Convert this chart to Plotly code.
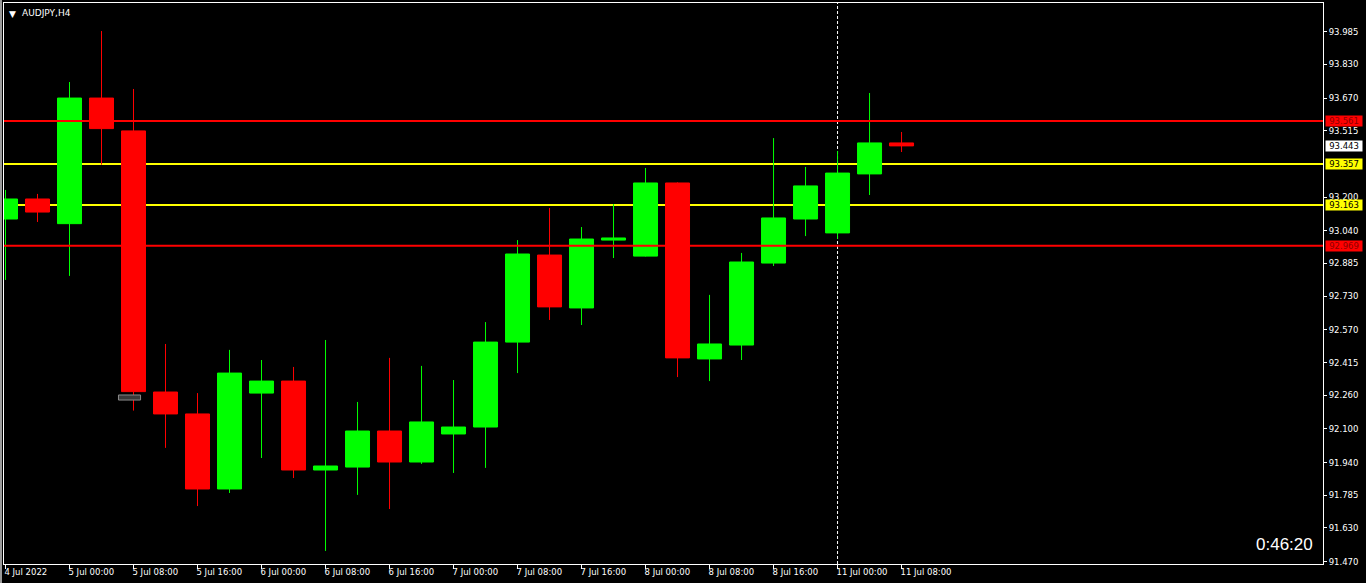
import plotly.graph_objects as go

# ---------------- data ----------------
times = ["4 Jul 16:00", "4 Jul 20:00", "5 Jul 00:00", "5 Jul 04:00", "5 Jul 08:00",
         "5 Jul 12:00", "5 Jul 16:00", "5 Jul 20:00", "6 Jul 00:00", "6 Jul 04:00",
         "6 Jul 08:00", "6 Jul 12:00", "6 Jul 16:00", "6 Jul 20:00", "7 Jul 00:00",
         "7 Jul 04:00", "7 Jul 08:00", "7 Jul 12:00", "7 Jul 16:00", "7 Jul 20:00",
         "8 Jul 00:00", "8 Jul 04:00", "8 Jul 08:00", "8 Jul 12:00", "8 Jul 16:00",
         "8 Jul 20:00", "11 Jul 00:00", "11 Jul 04:00", "11 Jul 08:00"]
opens = [93.096, 93.191, 93.074, 93.670, 93.514, 92.275, 92.171, 91.815, 92.270, 92.327,
         91.905, 91.919, 92.090, 91.943, 92.076, 92.109, 92.512, 92.925, 92.674, 92.996,
         92.920, 93.267, 92.432, 92.498, 92.887, 93.096, 93.030, 93.310, 93.457]
highs = [93.234, 93.215, 93.746, 93.988, 93.713, 92.503, 92.270, 92.475, 92.427, 92.394,
         92.522, 92.228, 92.437, 92.399, 92.332, 92.607, 92.996, 93.148, 93.058, 93.167,
         93.338, 93.270, 92.736, 92.935, 93.480, 93.343, 93.419, 93.694, 93.509]
lows = [92.807, 93.082, 92.826, 93.354, 92.187, 92.010, 91.734, 91.796, 91.962, 91.867,
        91.521, 91.787, 91.720, 91.934, 91.891, 91.915, 92.365, 92.617, 92.593, 92.911,
        92.918, 92.346, 92.327, 92.427, 92.873, 93.015, 93.001, 93.210, 93.414]
closes = [93.191, 93.129, 93.670, 93.525, 92.277, 92.171, 91.815, 92.365, 92.327, 91.905,
          91.924, 92.090, 91.943, 92.133, 92.109, 92.512, 92.930, 92.679, 93.001, 93.006,
          93.267, 92.437, 92.503, 92.892, 93.101, 93.253, 93.314, 93.457, 93.443]

x_tick_labels = ["4 Jul 2022", "5 Jul 00:00", "5 Jul 08:00", "5 Jul 16:00", "6 Jul 00:00",
                 "6 Jul 08:00", "6 Jul 16:00", "7 Jul 00:00", "7 Jul 08:00", "7 Jul 16:00",
                 "8 Jul 00:00", "8 Jul 08:00", "8 Jul 16:00", "11 Jul 00:00", "11 Jul 08:00"]
y_tick_values = [93.985, 93.830, 93.670, 93.515, 93.200, 93.040, 92.885, 92.730, 92.570,
                 92.415, 92.260, 92.100, 91.940, 91.785, 91.630, 91.470]

red_levels = [93.561, 92.969]
yellow_levels = [93.357, 93.163]
current_price = 93.443
symbol_title = "AUDJPY,H4"
timer_text = "0:46:20"
marker_time = "11 Jul 00:00"
# small grey rectangle object drawn on chart (index range, price range)
grey_rect_x = [3.53, 4.22]
grey_rect_y = [92.237, 92.261]

# ---------------- figure ----------------
idx = list(range(len(times)))
UP = "#00FF00"
DOWN = "#FF0000"
FONT = "DejaVu Sans"

fig = go.Figure()
fig.add_trace(go.Candlestick(
    x=idx, open=opens, high=highs, low=lows, close=closes,
    increasing=dict(line=dict(color=UP, width=1), fillcolor=UP),
    decreasing=dict(line=dict(color=DOWN, width=1), fillcolor=DOWN),
    whiskerwidth=0, hoverinfo="skip", showlegend=False,
))

shapes = []
for lv in red_levels:
    shapes.append(dict(type="line", xref="paper", x0=0, x1=1, yref="y", y0=lv, y1=lv,
                       line=dict(color="#FF0000", width=2), layer="above"))
for lv in yellow_levels:
    shapes.append(dict(type="line", xref="paper", x0=0, x1=1, yref="y", y0=lv, y1=lv,
                       line=dict(color="#FFFF00", width=2), layer="below"))
mx = times.index(marker_time)
shapes.append(dict(type="line", xref="x", x0=mx, x1=mx, yref="paper", y0=0, y1=1,
                   line=dict(color="#FFFFFF", width=1, dash="3px,2px"), layer="below"))
shapes.append(dict(type="rect", xref="x", x0=grey_rect_x[0], x1=grey_rect_x[1],
                   yref="y", y0=grey_rect_y[0], y1=grey_rect_y[1],
                   line=dict(color="#8a8a8a", width=1), fillcolor="#3a3a3a", layer="above"))
# window edge strip on the left
shapes.append(dict(type="rect", xref="paper", x0=-4 / 1319, x1=-2 / 1319, yref="paper",
                   y0=-19 / 561, y1=1 + 3 / 561, line=dict(width=0), fillcolor="#9a9a9a"))

annotations = []
def price_box(val, bg, fg):
    annotations.append(dict(
        xref="paper", x=1, xanchor="left", xshift=2, yref="y", y=val, yanchor="middle",
        text=f"{val:.3f}", showarrow=False, bgcolor=bg, width=36, height=10,
        borderpad=0, align="center", font=dict(family=FONT, size=8.5, color=fg)))

for lv in red_levels:
    price_box(lv, "#FF0000", "#8B0000")
for lv in yellow_levels:
    price_box(lv, "#FFFF00", "#000000")
price_box(current_price, "#FFFFFF", "#000000")

annotations.append(dict(
    xref="paper", x=0, xanchor="left", xshift=3, yref="paper", y=1, yanchor="top", yshift=-4,
    text="▼", showarrow=False,
    font=dict(family=FONT, size=9, color="#FFFFFF")))
annotations.append(dict(
    xref="paper", x=0, xanchor="left", xshift=16, yref="paper", y=1, yanchor="top", yshift=-3,
    text=symbol_title, showarrow=False,
    font=dict(family=FONT, size=9, color="#FFFFFF")))
annotations.append(dict(
    xref="paper", x=1, xanchor="right", xshift=-8, yref="paper", y=0, yanchor="middle",
    yshift=20, text=timer_text, showarrow=False,
    font=dict(family="Liberation Sans", size=17, color="#FFFFFF")))

fig.update_layout(
    width=1366, height=583,
    margin=dict(l=4, r=43, t=3, b=19, pad=0),
    paper_bgcolor="#000000", plot_bgcolor="#000000",
    boxgap=0.25, boxgroupgap=0,
    shapes=shapes, annotations=annotations,
    showlegend=False, hovermode=False,
    font=dict(family=FONT, size=8.5, color="#FFFFFF"),
)
fig.update_xaxes(
    range=[-0.047, 41.17], rangeslider=dict(visible=False),
    tickmode="array", tickvals=idx[::2], ticktext=x_tick_labels,
    ticks="outside", ticklen=4, tickcolor="#FFFFFF", tickwidth=1,
    ticklabelposition="outside right", ticklabelshift=-2,
    showgrid=False, zeroline=False,
    showline=True, linecolor="#FFFFFF", linewidth=1, mirror=True,
    tickfont=dict(family=FONT, size=8.5, color="#FFFFFF"),
    fixedrange=True,
)
fig.update_yaxes(
    range=[91.459, 94.121], side="right",
    tickmode="array", tickvals=y_tick_values, ticktext=[f"{v:.3f}" for v in y_tick_values],
    ticks="outside", ticklen=3, tickcolor="#FFFFFF", tickwidth=1,
    showgrid=False, zeroline=False,
    showline=True, linecolor="#FFFFFF", linewidth=1, mirror=True,
    tickfont=dict(family=FONT, size=8.5, color="#FFFFFF"),
    fixedrange=True,
)

fig.write_html("out.html", config={"displayModeBar": False, "staticPlot": True},
               post_script="document.body.style.margin='0';document.body.style.background='#000';document.body.style.overflow='hidden';")
